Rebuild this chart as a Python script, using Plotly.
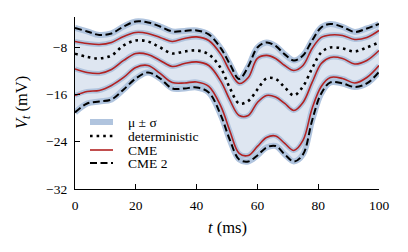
import plotly.graph_objects as go

# time (ms)
t = [0, 4, 8, 12, 16, 20, 24, 28, 32, 36, 40, 44, 48, 51, 54, 57, 60, 63, 66, 69,
     72, 75, 78, 81, 84, 88, 92, 96, 100]

# CME 2 (upper / lower), also the edges of the mu +/- sigma band
cme2_upper = [-4.75, -5.34, -5.94, -5.68, -4.50, -3.65, -3.82, -4.50, -5.34, -5.26,
              -5.17, -5.85, -8.22, -10.93, -13.38, -11.27, -8.05, -7.20, -7.80, -9.23,
              -10.25, -9.40, -6.87, -4.67, -4.07, -4.58, -5.43, -4.84, -4.07]
cme2_lower = [-19.05, -17.53, -17.19, -16.85, -15.16, -13.30, -12.28, -13.30, -14.99, -14.99,
              -14.82, -15.66, -19.56, -23.79, -27.00, -27.34, -26.32, -24.97, -24.72, -26.15,
              -27.34, -26.15, -20.40, -15.83, -13.97, -14.14, -14.73, -14.14, -12.20]

# CME curves
cme_a = [-7.04, -7.37, -7.54, -7.20, -6.19, -5.51, -5.68, -6.36, -7.04, -6.53,
         -6.27, -6.87, -9.23, -12.11, -14.14, -13.13, -9.91, -9.40, -9.91, -11.10,
         -11.94, -11.10, -8.22, -6.36, -5.94, -6.02, -6.70, -6.36, -5.17]
cme_b = [-11.69, -12.28, -12.45, -11.77, -10.25, -9.07, -9.23, -10.25, -11.27, -10.76,
         -10.50, -11.10, -13.80, -17.02, -19.56, -19.56, -17.36, -16.17, -16.43, -17.53,
         -18.71, -17.36, -13.97, -10.76, -9.74, -9.91, -10.84, -10.25, -8.56]
cme_c = [-16.17, -15.49, -15.33, -14.48, -13.13, -11.43, -11.10, -12.45, -13.97, -14.06,
         -13.89, -14.65, -18.03, -22.26, -25.98, -26.32, -24.80, -23.28, -23.02, -24.29,
         -25.48, -23.79, -18.37, -14.65, -13.13, -13.30, -14.06, -13.13, -11.10]

# deterministic
deterministic = [-9.12, -9.66, -9.91, -9.40, -7.71, -6.87, -7.04, -8.05, -9.07, -8.73,
                 -8.56, -9.23, -11.60, -14.99, -17.53, -17.10, -15.16, -13.30, -13.38, -14.82,
                 -16.17, -14.65, -11.60, -8.90, -8.05, -8.22, -8.73, -8.05, -7.20]

x_ticks = [0, 20, 40, 60, 80, 100]
y_ticks = [-32, -24, -16, -8]
y_ticklabels = ["\u221232", "\u221224", "\u221216", "\u22128"]

legend_labels = ["\u03bc \u00b1 \u03c3", "deterministic", "CME", "CME 2"]

FONT = "Liberation Serif"
FS = 13.5
FS_TITLE = 16.5
BAND_EDGE = "#b0c4de"
BAND_FILL = "rgba(176,196,222,0.42)"
RED = "#b22222"

fig = go.Figure()

# band fill
fig.add_trace(go.Scatter(x=t, y=cme2_upper, mode="lines", line=dict(width=0, shape="spline"),
                         hoverinfo="skip", showlegend=False))
fig.add_trace(go.Scatter(x=t, y=cme2_lower, mode="lines", line=dict(width=0, shape="spline"),
                         fill="tonexty", fillcolor=BAND_FILL, hoverinfo="skip", showlegend=False))

# band edges / halos
for arr in [cme2_upper, cme2_lower]:
    fig.add_trace(go.Scatter(x=t, y=arr, mode="lines",
                             line=dict(color=BAND_EDGE, width=6, shape="spline"),
                             hoverinfo="skip", showlegend=False))
for arr in [cme_a, cme_b, cme_c]:
    fig.add_trace(go.Scatter(x=t, y=arr, mode="lines",
                             line=dict(color=BAND_EDGE, width=5, shape="spline"),
                             hoverinfo="skip", showlegend=False))

# CME red lines
for arr in [cme_a, cme_b, cme_c]:
    fig.add_trace(go.Scatter(x=t, y=arr, mode="lines",
                             line=dict(color=RED, width=1.6, shape="spline"),
                             showlegend=False))

# deterministic dotted
fig.add_trace(go.Scatter(x=t, y=deterministic, mode="lines",
                         line=dict(color="black", width=2.6, dash="2.6px,4px", shape="spline"),
                         showlegend=False))

# CME 2 dashed
for arr in [cme2_upper, cme2_lower]:
    fig.add_trace(go.Scatter(x=t, y=arr, mode="lines",
                             line=dict(color="black", width=2, dash="7px,3.5px", shape="spline"),
                             showlegend=False))

# page body has an 8px margin: figure is drawn at (8, 8) in the window
OFF = 8
W, H = 400, 244
# plot area in window pixels: x 75..379, y 17..189
L = 75 - OFF
T = 17 - OFF
R = W - (379 - OFF)
B = H - (189 - OFF)
pw, ph = W - L - R, H - T - B


def px(xw):
    return (xw - OFF - L) / pw


def py(yw):
    return (H - B - (yw - OFF)) / ph


leg_y = [122, 136, 150, 163]
sym_x0, sym_x1, txt_x = px(90), px(113), px(127)
styles = [
    dict(color=BAND_EDGE, width=6),
    dict(color="black", width=2.6, dash="2.6px,4px"),
    dict(color=RED, width=1.6),
    dict(color="black", width=2, dash="7px,3.5px"),
]
shapes = []
annotations = []
for lab, yy, st in zip(legend_labels, leg_y, styles):
    shapes.append(dict(type="line", xref="paper", yref="paper", x0=sym_x0, x1=sym_x1,
                       y0=py(yy), y1=py(yy), line=st))
    annotations.append(dict(text=lab, xref="paper", yref="paper", x=txt_x, y=py(yy),
                            xanchor="left", yanchor="middle", showarrow=False, borderpad=0,
                            font=dict(family=FONT, size=FS, color="black")))

# axis titles
annotations.append(dict(text="<i>t</i> (ms)", xref="paper", yref="paper", x=0.5, y=py(227),
                        xanchor="center", yanchor="middle", showarrow=False,
                        font=dict(family=FONT, size=FS_TITLE, color="black")))
annotations.append(dict(text="<i>V</i><sub><i>t</i></sub> (mV)", xref="paper", yref="paper",
                        x=px(22), y=py(103), xanchor="center", yanchor="middle", textangle=-90,
                        showarrow=False, font=dict(family=FONT, size=FS_TITLE, color="black")))

fig.update_layout(
    width=W, height=H,
    margin=dict(l=L, r=R, t=T, b=B, pad=0),
    paper_bgcolor="white", plot_bgcolor="white",
    showlegend=False,
    shapes=shapes, annotations=annotations,
    font=dict(family=FONT, size=FS, color="black"),
)
fig.update_xaxes(range=[0, 100], tickvals=x_ticks, ticks="inside", ticklen=5, tickwidth=1,
                 tickcolor="black", showline=True, linecolor="black", linewidth=1.3,
                 showgrid=False, zeroline=False, ticklabelstandoff=4,
                 tickfont=dict(family=FONT, size=FS, color="black"))
fig.update_yaxes(range=[-32, -2.9], tickvals=y_ticks, ticktext=y_ticklabels, ticks="inside",
                 ticklen=5, tickwidth=1, tickcolor="black", showline=True, linecolor="black",
                 linewidth=1.3, showgrid=False, zeroline=False, ticklabelstandoff=4,
                 tickfont=dict(family=FONT, size=FS, color="black"))

fig.write_html("out.html")
